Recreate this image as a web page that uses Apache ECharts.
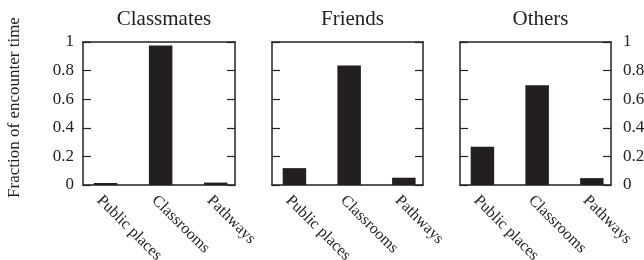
<!DOCTYPE html>
<html>
<head>
<meta charset="utf-8">
<script src="https://cdn.jsdelivr.net/npm/echarts@6/dist/echarts.min.js"></script>
<style>
html,body{margin:0;padding:0;background:#fff;}
#chart{width:644px;height:260px;}
</style>
</head>
<body>
<div id="chart"></div>
<script>
// ---- data ----
const categories = ['Public places', 'Classrooms', 'Pathways'];
const panelTitles = ['Classmates', 'Friends', 'Others'];
const classmates = [0.014, 0.975, 0.017];
const friends = [0.118, 0.835, 0.051];
const others = [0.267, 0.698, 0.048];
const yTicks = [0, 0.2, 0.4, 0.6, 0.8, 1];
const yLabel = 'Fraction of encounter time';

const panelValues = [classmates, friends, others];
const FONT = 'Liberation Serif';
const INK = '#222';
const LABEL_SHIFT = 0.115;

const grids = [
  {left: 83, top: 42, width: 152, height: 143, outerBoundsMode: 'none', containLabel: false},
  {left: 272, top: 42, width: 151, height: 143, outerBoundsMode: 'none', containLabel: false},
  {left: 460, top: 42, width: 151, height: 143, outerBoundsMode: 'none', containLabel: false}
];

const xAxis = [], yAxis = [], series = [], title = [];
grids.forEach((g, i) => {
  title.push({
    text: panelTitles[i], left: g.left + g.width / 2, top: 4, textAlign: 'center',
    textStyle: {fontFamily: FONT, fontSize: 21, fontWeight: 'normal', color: INK}
  });
  xAxis.push({
    type: 'value', gridIndex: i, min: -0.41, max: 2.35, position: 'bottom',
    splitLine: {show: false},
    axisLine: {show: true, onZero: false, lineStyle: {color: INK, width: 1.5}},
    axisTick: {show: false},
    axisLabel: {
      show: true, rotate: -45, margin: 13, fontFamily: FONT, fontSize: 16, color: INK,
      customValues: categories.map((c, k) => k - LABEL_SHIFT),
      formatter: v => categories[Math.round(v + LABEL_SHIFT)]
    }
  });
  xAxis.push({
    type: 'value', gridIndex: i, min: -0.41, max: 2.35, position: 'top',
    splitLine: {show: false},
    axisLine: {show: true, onZero: false, lineStyle: {color: INK, width: 1.5}},
    axisTick: {show: false}, axisLabel: {show: false}
  });
  const yBase = {
    type: 'value', gridIndex: i, min: 0, max: 1, interval: 0.2,
    splitLine: {show: false},
    axisLine: {show: true, onZero: false, lineStyle: {color: INK, width: 1.5}},
    axisTick: {show: true, inside: true, length: 8, lineStyle: {color: INK, width: 1.2}}
  };
  yAxis.push(Object.assign({}, yBase, {
    position: 'left',
    name: i === 0 ? yLabel : '',
    nameLocation: 'middle', nameGap: 60, nameRotate: 90,
    nameTextStyle: {fontFamily: FONT, fontSize: 17, color: INK, padding: [0, 0, 0, 12]},
    axisLabel: {show: i === 0, margin: 9, fontFamily: FONT, fontSize: 17, color: INK,
      customValues: yTicks}
  }));
  yAxis.push(Object.assign({}, yBase, {
    position: 'right',
    axisLabel: {show: i === 2, margin: 12, fontFamily: FONT, fontSize: 17, color: INK,
      customValues: yTicks}
  }));
  series.push({
    type: 'bar', xAxisIndex: 2 * i, yAxisIndex: 2 * i, barWidth: 23.5,
    itemStyle: {color: '#231f20'},
    data: panelValues[i].map((v, k) => [k, v])
  });
});

const chart = echarts.init(document.getElementById('chart'), null, {renderer: 'canvas'});
chart.setOption({
  animation: false,
  backgroundColor: '#fff',
  title: title,
  grid: grids,
  xAxis: xAxis,
  yAxis: yAxis,
  series: series
});
</script>
</body>
</html>
